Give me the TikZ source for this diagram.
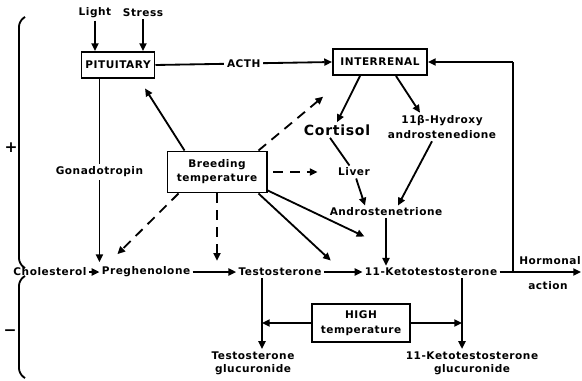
\documentclass[tikz,border=0pt]{standalone}
\usepackage{fontspec}
\setmainfont[LetterSpace=5]{DejaVu Sans}
\usetikzlibrary{arrows.meta,calc}

\begin{document}
\begin{tikzpicture}[x=0.025cm, y=-0.025cm,
    txt/.style={font=\bfseries\fontsize{7.5}{10}\selectfont, inner sep=1.5pt, align=center},
    box/.style={txt, draw, line width=1.4pt, inner sep=2pt},
    arr/.style={-{Triangle[length=5.5pt,width=5pt]}, line width=1.3pt},
    darr/.style={arr, dash pattern=on 7pt off 5pt},
    lbl/.style={txt, fill=white, inner sep=2pt},
    brc/.style={line width=1.3pt, rounded corners=4pt}
]
\useasboundingbox (0,0) rectangle (582,380);

% upper part
\node[txt] (light) at (95,13) {Light};
\node[txt] (stress) at (143,13) {Stress};
\node[box, minimum width=1.825cm, minimum height=0.65cm] (pit) at (118,65) {PITUITARY};
\node[box, minimum width=2.35cm, minimum height=0.65cm] (inter) at (380,62) {INTERRENAL};
\node[box, minimum width=2.475cm, minimum height=1.025cm] (breed) at (217,172) {Breeding\\temperature};
\node[txt, font=\bfseries\fontsize{10}{12}\selectfont] (cort) at (337,130) {Cortisol};
\node[txt, font=\bfseries\fontsize{7.5}{11}\selectfont] (hydro) at (442,127) {11β-Hydroxy\\androstenedione};
\node[txt] (liver) at (354,172) {Liver};
\node[txt] (andro) at (386,212) {Androstenetrione};

% steroid row
\node[txt] (chol) at (50,272) {Cholesterol};
\node[txt] (preg) at (146,272) {Preghenolone};
\node[txt] (testo) at (280,272) {Testosterone};
\node[txt] (keto) at (431,272) {11-Ketotestosterone};
\node[txt] (horm) at (550,261) {Hormonal};
\node[txt] (act) at (548,286) {action};
\coordinate (fb) at (513,272);
\coordinate (hend) at (581,272);

% lower part
\node[box, minimum width=2.45cm, minimum height=0.95cm, font=\bfseries\fontsize{7.5}{11}\selectfont] (high) at (361,323) {HIGH\\temperature};
\node[txt, font=\bfseries\fontsize{7.5}{9.5}\selectfont] (tgluc) at (253,363) {Testosterone\\glucuronide};
\node[txt, font=\bfseries\fontsize{7.5}{9.5}\selectfont] (kgluc) at (472,363) {11-Ketotestosterone\\glucuronide};

\node[txt, font=\bfseries\fontsize{11}{12}\selectfont] (plus) at (11,148) {+};
\node[txt, font=\bfseries\fontsize{11}{12}\selectfont] (minus) at (10,333) {−};
\draw[brc] (25,17) -- (19,21) -- (19,264) -- (25,268);
\draw[brc] (25,276) -- (19,280) -- (19,374) -- (25,378);

\draw[arr] (light.south) -- (light.south |- pit.north);
\draw[arr] (stress.south) -- (stress.south |- pit.north);
\draw[arr] (pit.east) -- node[lbl] {ACTH} (inter.west);
\draw[arr] (inter.east -| fb) -- (inter.east);
\draw[line width=1.3pt] (fb) -- (inter.east -| fb);
\draw[arr, shorten >=7pt] (pit.south -| preg.west) -- node[lbl, pos=0.48] {Gonadotropin} (preg.west);

\draw[arr, shorten >=8pt] ([xshift=0.45cm]breed.north west) -- ([xshift=0.525cm]pit.south);
\draw[darr, shorten >=23pt] ([xshift=-0.225cm]breed.north east) -- ([xshift=0.4cm]inter.south west);
\draw[darr, shorten <=4pt, shorten >=13pt] (breed.east) -- (liver.west);
\draw[darr, shorten >=18pt] ([xshift=0.3cm]breed.south west) -- (preg.west);

\draw[arr] ([xshift=-0.5cm]inter.south) -- (cort.north);
\draw[arr] ([xshift=0.4cm]inter.south) -- ([xshift=-0.55cm]hydro.north);
\draw[line width=1.3pt] ([xshift=-0.175cm]cort.south) -- (liver);
\draw[arr] (liver) -- ([xshift=-0.525cm]andro.north);
\draw[arr] ([xshift=-0.25cm]hydro.south) -- ([xshift=0.3cm]andro.north);

\draw[arr] (chol) -- (preg);
\draw[arr] (preg) -- coordinate[midway] (r2) (testo);
\draw[arr] (testo) -- coordinate[midway] (r3) (keto);
\draw[arr] (andro.south) -- coordinate[pos=0.6] (r4) (andro.south |- keto.north);
\draw[arr] (keto) -- (hend);

\draw[darr, shorten >=8pt] (breed.south) -- (breed.south |- r2);
\draw[arr, shorten >=12pt] ([xshift=-0.225cm]breed.south east) -- (r3);
\draw[arr, shorten >=17pt] (breed.-20) -- (r4);

\draw[arr] ([xshift=-0.45cm]testo.south) -- coordinate[midway] (tv) ([xshift=-0.45cm]testo.south |- tgluc.north);
\draw[arr] ([xshift=0.775cm]keto.south) -- coordinate[midway] (kv) ([xshift=0.775cm]keto.south |- kgluc.north);
\draw[arr] (high.west) -- (high.west -| tv);
\draw[arr] (high.east) -- (high.east -| kv);
\end{tikzpicture}
\end{document}
